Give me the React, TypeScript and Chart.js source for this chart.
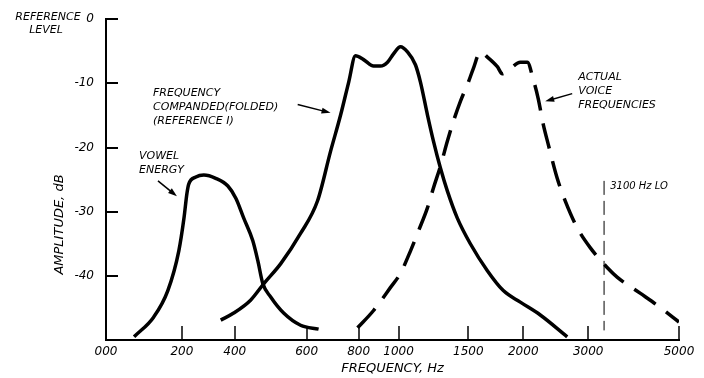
import React, { useEffect, useRef } from 'react';
import { Chart, registerables } from 'chart.js';

Chart.register(...registerables);

// Frequency axis (hand-spaced in the original drawing)
const tickFreqs = [0, 200, 400, 600, 800, 1000, 1500, 2000, 3000, 5000];
const tickLabels = ['000', '200', '400', '600', '800', '1000', '1500', '2000', '3000', '5000'];
// where each frequency tick sits along the axis, in percent of its length
const tickStops = [0, 13.24, 22.47, 35.02, 44.08, 51.05, 63.24, 72.82, 84.15, 100];
const dbTicks = [0, -10, -20, -30, -40];

const vowelHz = [74, 126, 163, 192, 208, 219, 226, 253, 283, 328, 374, 403, 425, 450, 464, 478, 500, 536, 583, 646];
const vowelDb = [-49.5, -46.4, -42.3, -36.1, -31.0, -27.2, -25.7, -24.6, -24.3, -24.8, -26.0, -27.9, -31.0, -34.5, -37.6, -41.2, -43.3, -45.8, -47.7, -48.3];

const compandedHz = [347, 396, 444, 481, 528, 583, 642, 692, 731, 762, 788, 825, 875, 910, 945, 975, 1014, 1064, 1121, 1157, 1207, 1250, 1300, 1350, 1421, 1518, 1673, 1818, 1973, 2262, 2677];
const compandedDb = [-46.9, -45.8, -43.8, -41.2, -38.1, -33.4, -28.3, -20.6, -14.9, -9.8, -5.7, -6.3, -7.3, -7.3, -6.7, -5.4, -4.3, -5.1, -7.1, -9.8, -14.9, -19.0, -23.2, -26.8, -31.0, -35.0, -39.2, -42.3, -44.1, -46.1, -49.5];

const actualHz = [796, 875, 960, 1014, 1086, 1143, 1207, 1250, 1300, 1350, 1393, 1443, 1500, 1545, 1609, 1673, 1764, 1809, 1882, 1973, 2062, 2154, 2231, 2308, 2385, 2523, 2646, 2831, 3044, 3418, 3637, 4143, 4582, 5000];
const actualDb = [-48.1, -45.4, -41.8, -39.6, -36.1, -33.0, -29.4, -26.3, -22.9, -19.0, -15.9, -12.8, -9.8, -7.7, -5.1, -5.9, -7.4, -8.5, -7.7, -6.7, -6.7, -9.4, -12.4, -16.4, -19.5, -24.8, -28.3, -32.5, -35.6, -38.7, -40.2, -42.7, -44.9, -47.2];

const loHz = [3350, 3350];
const loDb = [-25.2, -48.5];

const noteLines = {
  vowel: ['VOWEL', 'ENERGY'],
  companded: ['FREQUENCY', 'COMPANDED(FOLDED)', '(REFERENCE I)'],
  actual: ['ACTUAL', 'VOICE', 'FREQUENCIES'],
  lo: ['3100 Hz LO'],
};
const noteHz = { vowel: 87, companded: 124, actual: 2846, lo: 3484 };
const noteDb = { vowel: -21.4, companded: -11.6, actual: -9.0, lo: -26.0 };

// arrows: [fromHz, fromDb, toHz, toDb]
const arrowVowel = [137, -25.2, 187, -27.6];
const arrowCompanded = [575, -13.3, 692, -14.6];
const arrowActual = [2754, -11.6, 2338, -12.8];

const FONT = '"DejaVu Sans", sans-serif';

function hzToAxis(hz: number): number {
  for (let i = 1; i < tickFreqs.length; i++) {
    if (hz <= tickFreqs[i] || i === tickFreqs.length - 1) {
      const f0 = tickFreqs[i - 1];
      const f1 = tickFreqs[i];
      return tickStops[i - 1] + ((hz - f0) / (f1 - f0)) * (tickStops[i] - tickStops[i - 1]);
    }
  }
  return 0;
}

const pts = (hz: number[], db: number[]) => hz.map((h, i) => ({ x: hzToAxis(h), y: db[i] }));

const decor = {
  id: 'decor',
  afterDraw(chart: any) {
    const { ctx, chartArea: ca, scales } = chart;
    const xs = scales.x;
    const ys = scales.y;
    const px = (hz: number) => xs.getPixelForValue(hzToAxis(hz));
    const py = (db: number) => ys.getPixelForValue(db);
    ctx.save();
    ctx.strokeStyle = '#000';
    ctx.fillStyle = '#000';
    ctx.lineCap = 'butt';

    // inward tick marks
    ctx.lineWidth = 2;
    dbTicks.forEach((v) => {
      const y = Math.round(ys.getPixelForValue(v));
      ctx.beginPath();
      ctx.moveTo(ca.left, y);
      ctx.lineTo(ca.left + 12, y);
      ctx.stroke();
    });
    ctx.lineWidth = 1.5;
    xs.ticks.forEach((t: any) => {
      if (t.value === 0) return;
      const x = Math.round(xs.getPixelForValue(t.value));
      ctx.beginPath();
      ctx.moveTo(x, ca.bottom);
      ctx.lineTo(x, ca.bottom - 14);
      ctx.stroke();
    });

    // notes
    const drawNote = (lines: string[], hz: number, db: number, size: number) => {
      ctx.font = `italic ${size}px ${FONT}`;
      ctx.textAlign = 'left';
      ctx.textBaseline = 'middle';
      lines.forEach((l, i) => ctx.fillText(l, px(hz), py(db) + i * 14));
    };
    drawNote(noteLines.vowel, noteHz.vowel, noteDb.vowel, 11);
    drawNote(noteLines.companded, noteHz.companded, noteDb.companded, 11);
    drawNote(noteLines.actual, noteHz.actual, noteDb.actual, 11);
    drawNote(noteLines.lo, noteHz.lo, noteDb.lo, 10);

    // arrows
    const drawArrow = (a: number[]) => {
      const x1 = px(a[0]), y1 = py(a[1]), x2 = px(a[2]), y2 = py(a[3]);
      const ang = Math.atan2(y2 - y1, x2 - x1);
      ctx.lineWidth = 1.5;
      ctx.beginPath();
      ctx.moveTo(x1, y1);
      ctx.lineTo(x2 - Math.cos(ang) * 5, y2 - Math.sin(ang) * 5);
      ctx.stroke();
      ctx.beginPath();
      ctx.moveTo(x2, y2);
      ctx.lineTo(x2 - Math.cos(ang) * 9 - Math.sin(ang) * 3, y2 - Math.sin(ang) * 9 + Math.cos(ang) * 3);
      ctx.lineTo(x2 - Math.cos(ang) * 9 + Math.sin(ang) * 3, y2 - Math.sin(ang) * 9 - Math.cos(ang) * 3);
      ctx.closePath();
      ctx.fill();
    };
    drawArrow(arrowVowel);
    drawArrow(arrowCompanded);
    drawArrow(arrowActual);

    // reference level label
    ctx.font = `italic 11px ${FONT}`;
    ctx.textAlign = 'center';
    ctx.textBaseline = 'middle';
    ctx.fillText('REFERENCE', ca.left - 58, py(0) - 2);
    ctx.fillText('LEVEL', ca.left - 60, py(0) + 11);

    // y axis title
    ctx.save();
    ctx.translate(ca.left - 46, py(-32));
    ctx.rotate(-Math.PI / 2);
    ctx.font = `italic 13px ${FONT}`;
    ctx.fillText('AMPLITUDE, dB', 0, 0);
    ctx.restore();

    ctx.restore();
  },
};

export default function App() {
  const ref = useRef<HTMLCanvasElement>(null);
  useEffect(() => {
    if (!ref.current) return;
    const common = {
      borderColor: '#000',
      pointRadius: 0,
      fill: false,
      cubicInterpolationMode: 'monotone' as const,
    };
    const chart = new Chart(ref.current, {
      type: 'line',
      data: {
        datasets: [
          { ...common, label: 'Vowel energy', data: pts(vowelHz, vowelDb), borderWidth: 3.5 },
          { ...common, label: 'Frequency companded (folded)', data: pts(compandedHz, compandedDb), borderWidth: 3.5 },
          { ...common, label: 'Actual voice frequencies', data: pts(actualHz, actualDb), borderWidth: 3.5, borderDash: [26, 13] },
          { ...common, label: '3100 Hz LO', data: pts(loHz, loDb), borderWidth: 1, borderDash: [14, 6], cubicInterpolationMode: 'default' as const, tension: 0 },
        ],
      },
      options: {
        animation: false,
        responsive: false,
        devicePixelRatio: 1,
        layout: { padding: { top: 17, right: 25, bottom: 0, left: 0 } },
        plugins: { legend: { display: false }, tooltip: { enabled: false } },
        scales: {
          x: {
            type: 'linear',
            min: 0,
            max: 100,
            afterBuildTicks: (s: any) => {
              s.ticks = tickStops.map((v) => ({ value: v }));
            },
            afterFit: (s: any) => {
              s.height = 38;
            },
            ticks: {
              autoSkip: false,
              maxRotation: 0,
              padding: 5,
              color: '#000',
              font: { family: FONT, size: 12, style: 'italic' },
              callback: (v: any) => tickLabels[tickStops.indexOf(Number(v))] ?? '',
            },
            grid: { display: false, drawTicks: false },
            border: { display: true, color: '#000', width: 2 },
            title: {
              display: true,
              text: 'FREQUENCY, Hz',
              color: '#000',
              font: { family: FONT, size: 13, style: 'italic' },
              padding: { top: 0, bottom: 2 },
            },
          },
          y: {
            type: 'linear',
            min: -50,
            max: 0,
            afterBuildTicks: (s: any) => {
              s.ticks = dbTicks.map((v) => ({ value: v }));
            },
            afterFit: (s: any) => {
              s.width = 106;
            },
            ticks: {
              padding: 12,
              color: '#000',
              font: { family: FONT, size: 12, style: 'italic' },
              callback: (v: any) => (Number(v) === 0 ? '0' : `-${Math.abs(Number(v))}`),
            },
            grid: { display: false, drawTicks: false },
            border: { display: true, color: '#000', width: 2 },
          },
        },
      },
      plugins: [decor],
    });
    return () => chart.destroy();
  }, []);
  return (
    <div style={{ position: 'absolute', left: 0, top: 0, width: 704, height: 378, background: '#fff' }}>
      <canvas ref={ref} width={704} height={378} />
    </div>
  );
}
